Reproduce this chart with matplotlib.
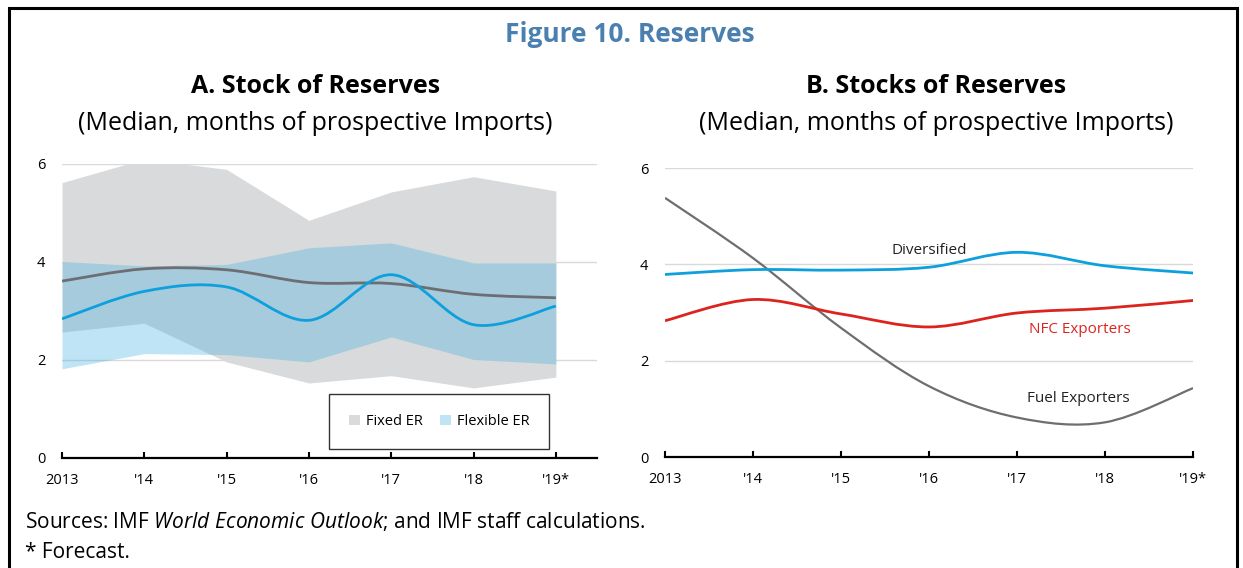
import matplotlib.pyplot as plt
import numpy as np
from matplotlib.path import Path
from matplotlib.patches import PathPatch, Rectangle

plt.rcParams['font.family'] = ['Open Sans', 'DejaVu Sans']
plt.rcParams['mathtext.fontset'] = 'custom'
plt.rcParams['mathtext.rm'] = 'Open Sans'
plt.rcParams['mathtext.it'] = 'Open Sans:italic'

# data
years = ["2013", "'14", "'15", "'16", "'17", "'18", "'19*"]

# panel A: ranges and medians
fixed_hi = [5.62, 6.10, 5.89, 4.85, 5.43, 5.74, 5.45]
fixed_lo = [2.57, 2.75, 1.96, 1.53, 1.68, 1.43, 1.65]
flex_hi = [4.01, 3.92, 3.95, 4.29, 4.39, 3.98, 3.98]
flex_lo = [1.82, 2.13, 2.11, 1.96, 2.47, 2.01, 1.92]
fixed_med = [3.61, 3.86, 3.84, 3.58, 3.56, 3.34, 3.27]
flex_med = [2.84, 3.40, 3.49, 2.81, 3.74, 2.72, 3.10]

# panel B: medians by group
diversified = [3.79, 3.89, 3.88, 3.94, 4.25, 3.97, 3.82]
nfc = [2.83, 3.27, 2.97, 2.70, 2.99, 3.09, 3.25]
fuel = [5.38, 4.13, 2.68, 1.47, 0.82, 0.72, 1.43]

GREY_BAND = "#d9dadb"
BLUE_BAND = (68/255, 176/255, 226/255, 0.34)
GREY_LINE = "#6d6e71"
BLUE_LINE = "#0ea0dc"
RED_LINE = "#dc241f"


def smooth_line(ax, y, color, lw):
    # excel-style smoothed line: bezier segments through the data points
    x = np.arange(len(y), dtype=float)
    y = np.asarray(y, dtype=float)
    n = len(y)
    verts = [(x[0], y[0])]
    codes = [Path.MOVETO]
    for i in range(n - 1):
        p0 = max(i - 1, 0)
        p3 = min(i + 2, n - 1)
        c1 = (x[i] + (x[i + 1] - x[p0]) / 6, y[i] + (y[i + 1] - y[p0]) / 6)
        c2 = (x[i + 1] - (x[p3] - x[i]) / 6, y[i + 1] - (y[p3] - y[i]) / 6)
        verts += [c1, c2, (x[i + 1], y[i + 1])]
        codes += [Path.CURVE4] * 3
    ax.add_patch(PathPatch(Path(verts, codes), facecolor="none", edgecolor=color,
                           lw=lw, capstyle="butt", zorder=3))


def style_axes(ax, xmax):
    ax.set_ylim(0, 6)
    ax.set_xlim(0, xmax)
    ax.set_yticks([0, 2, 4, 6])
    ax.set_xticks(range(len(years)))
    ax.set_xticklabels(years)
    for s in ["left", "right", "top"]:
        ax.spines[s].set_visible(False)
    ax.spines["bottom"].set_linewidth(1.6)
    ax.spines["bottom"].set_color("black")
    ax.spines["bottom"].set_zorder(5)
    ax.tick_params(axis="x", direction="in", length=4, width=1.5, pad=11,
                   labelsize=10.5)
    ax.tick_params(axis="y", length=0, pad=12, labelsize=10.5)
    ax.grid(axis="y", color="#d9d9d9", lw=1)
    ax.set_axisbelow(True)


fig = plt.figure(figsize=(12.43, 5.68), dpi=100)

# panel A
ax1 = fig.add_axes([0.0499, 0.1937, 0.4304, 0.5176])
style_axes(ax1, 6.5)
x = np.arange(len(years))
ax1.fill_between(x, fixed_lo, fixed_hi, color=GREY_BAND, lw=0, label="Fixed ER", zorder=1)
ax1.fill_between(x, flex_lo, flex_hi, color=BLUE_BAND, lw=0, label="Flexible ER", zorder=2)
smooth_line(ax1, fixed_med, GREY_LINE, 2.0)
smooth_line(ax1, flex_med, BLUE_LINE, 2.0)
leg = ax1.legend(loc="center", bbox_to_anchor=(0.705, 0.124), ncol=2, fontsize=10.5,
                 frameon=True, fancybox=False, handlelength=0.75, handleheight=0.75,
                 borderpad=1.35, columnspacing=1.2, handletextpad=0.4,
                 borderaxespad=0)
leg.get_frame().set_edgecolor("black")
leg.get_frame().set_linewidth(1.0)
leg.set_zorder(6)

# panel B
ax2 = fig.add_axes([0.535, 0.1954, 0.4248, 0.5088])
style_axes(ax2, 6)
smooth_line(ax2, fuel, GREY_LINE, 1.6)
smooth_line(ax2, nfc, RED_LINE, 2.0)
smooth_line(ax2, diversified, BLUE_LINE, 2.0)
ax2.text(3.0, 4.29, "Diversified", ha="center", va="center", fontsize=11, color="#222222")
ax2.text(4.71, 2.64, "NFC Exporters", ha="center", va="center", fontsize=11, color=RED_LINE)
ax2.text(4.70, 1.22, "Fuel Exporters", ha="center", va="center", fontsize=11, color="#222222")

# titles
fig.text(0.507, 0.940, "Figure 10. Reserves", ha="center", va="center",
         fontsize=19, fontweight="bold", color="#4a80b0")
fig.text(0.254, 0.848, "A. Stock of Reserves", ha="center", va="center",
         fontsize=18, fontweight="bold")
fig.text(0.254, 0.783, "(Median, months of prospective Imports)", ha="center",
         va="center", fontsize=18)
fig.text(0.753, 0.848, "B. Stocks of Reserves", ha="center", va="center",
         fontsize=18, fontweight="bold")
fig.text(0.753, 0.783, "(Median, months of prospective Imports)", ha="center",
         va="center", fontsize=18)

# footnotes
fig.text(0.020, 0.081, r"Sources: IMF $\it{World\ Economic\ Outlook}$; and IMF staff calculations.",
         ha="left", va="center", fontsize=15)
fig.text(0.020, 0.028, "* Forecast.", ha="left", va="center", fontsize=15)

# border around the figure
fig.patches.append(Rectangle((9 / 1243, -0.2), (1237 - 9) / 1243, 1.2 - 8 / 568,
                             transform=fig.transFigure, fill=False, edgecolor="black",
                             lw=2.2, figure=fig))

fig.savefig("out.png", dpi=100)
